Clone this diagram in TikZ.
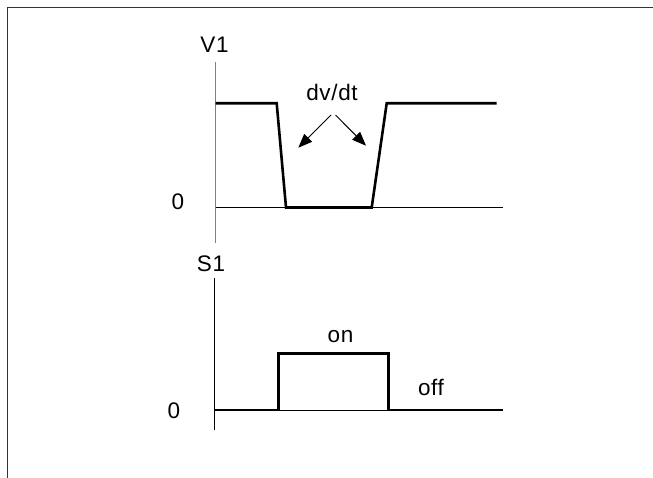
\documentclass[tikz,border=0pt]{standalone}
\usepackage{fontspec}
\setmainfont{Liberation Sans}[LetterSpace=3]
\usetikzlibrary{arrows.meta}
\begin{document}
\begin{tikzpicture}[x=1pt,y=-1pt,
  font=\fontsize{22.5}{25}\selectfont,
  wave/.style={line width=2.6pt, line join=miter},
  axisline/.style={line width=1pt},
  zeroline/.style={line width=0.9pt},
  lbl/.style={inner sep=0pt, anchor=base},
  dvarrow/.style={line width=1pt, -{Triangle[length=14pt,width=11pt]}}]
\useasboundingbox (0,0) rectangle (653,478);
% frame
\draw[line width=1.3pt, black!80] (7.5,478) -- (7.5,7.5) -- (653,7.5);

% V1 plot
\draw[axisline, black!50] (215.5,62) -- (215.5,243);
\draw[zeroline] (215.5,207.5) -- (503,207.5);
\draw[wave] (215.5,103.3) -- (276.7,103.3) -- (286,207.5) -- (371.7,207.5) -- (386.7,103.3) -- (496.7,103.3);
\node[lbl] (v1) at (214.5,53) {V1};
\node[lbl] (v0) at (178,210) {0};
\node[lbl] (dvdt) at (332,100.5) {dv/dt};
\coordinate (a1) at (331,115);
\coordinate (t1) at (298.3,147.7);
\coordinate (a2) at (335.5,115);
\coordinate (t2) at (366,145.7);
\draw[dvarrow] (a1) -- (t1);
\draw[dvarrow] (a2) -- (t2);

% S1 plot
\draw[axisline] (214.5,278) -- (214.5,430);
\draw[zeroline] (214.5,410) -- (503,410);
\draw[wave] (214.5,410) -- (278.3,410) -- (278.3,353.3) -- (388.3,353.3) -- (388.3,410) -- (502.7,410);
\node[lbl] (s1) at (211,272) {S1};
\node[lbl] (s0) at (174,418) {0};
\node[lbl] (on) at (340.5,342) {on};
\node[lbl] (off) at (431,395) {off};
\end{tikzpicture}
\end{document}
